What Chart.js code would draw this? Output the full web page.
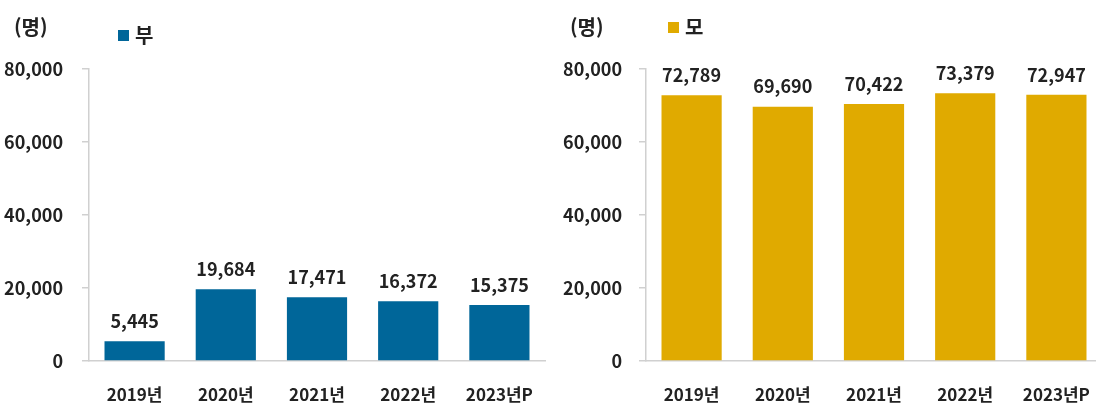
<!DOCTYPE html>
<html lang="ko">
<head>
<meta charset="utf-8">
<script src="https://cdn.jsdelivr.net/npm/chart.js@4/dist/chart.umd.min.js"></script>
<style>
    html, body { margin: 0; padding: 0; background: #fff; overflow: hidden; }
    body { width: 1096px; height: 403px; position: relative; }
    canvas { position: absolute; top: 0; }
    #fatherChart { left: 0; }
    #motherChart { left: 556px; }
</style>
</head>
<body>
<canvas id="fatherChart" width="560" height="403"></canvas>
<canvas id="motherChart" width="550" height="403"></canvas>
<script>
// Dados
const years = ['2019년', '2020년', '2021년', '2022년', '2023년P'];
const fatherValues = [5445, 19684, 17471, 16372, 15375];
const motherValues = [72789, 69690, 70422, 73379, 72947];
const yTicks = [0, 20000, 40000, 60000, 80000];

const TEXT_COLOR = '#222222';
const AXIS_COLOR = '#d0d0d0';
const FONT = '"Noto Sans CJK KR", "Noto Sans", sans-serif';

function fmt(v) {
    return v.toLocaleString('en-US');
}

// Rótulos de valor acima das barras + unidade e legenda
const overlayPlugin = {
    id: 'overlay',
    afterDatasetsDraw(chart, args, opts) {
        const ctx = chart.ctx;
        const meta = chart.getDatasetMeta(0);
        const data = chart.data.datasets[0].data;
        ctx.save();
        ctx.fillStyle = TEXT_COLOR;
        ctx.font = 'bold 18px ' + FONT;
        ctx.textAlign = 'center';
        ctx.textBaseline = 'middle';
        meta.data.forEach((bar, i) => {
            ctx.fillText(fmt(data[i]), bar.x, bar.y - 20);
        });

        // unidade
        ctx.font = 'bold 20px ' + FONT;
        ctx.textAlign = 'left';
        ctx.fillText('(명)', opts.unitX, 27);

        // legenda
        ctx.fillStyle = chart.data.datasets[0].backgroundColor;
        ctx.fillRect(opts.legendX, opts.legendY - 5, 11, 11);
        ctx.fillStyle = TEXT_COLOR;
        ctx.font = 'bold 20px ' + FONT;
        ctx.fillText(chart.data.datasets[0].label, opts.legendX + 17, opts.legendY);
        ctx.restore();
    }
};

function makeChart(id, label, values, color, cfg) {
    return new Chart(document.getElementById(id), {
        type: 'bar',
        data: {
            labels: years,
            datasets: [{
                label: label,
                data: values,
                backgroundColor: color,
                barPercentage: 0.66,
                categoryPercentage: 1.0
            }]
        },
        options: {
            responsive: false,
            animation: false,
            layout: { padding: { top: 69, right: cfg.padRight, left: 0, bottom: 0 } },
            plugins: {
                legend: { display: false },
                tooltip: { enabled: false },
                overlay: cfg
            },
            scales: {
                x: {
                    grid: { display: false, drawTicks: false },
                    border: { display: true, color: AXIS_COLOR, width: 1.5 },
                    ticks: {
                        color: TEXT_COLOR,
                        font: { family: FONT, size: 17, weight: 'bold' },
                        padding: 23,
                        maxRotation: 0
                    },
                    afterFit(scale) {
                        scale.height = 42;
                        scale.paddingLeft = 0;
                        scale.paddingRight = 0;
                    }
                },
                y: {
                    min: 0,
                    max: 80000,
                    afterBuildTicks(scale) {
                        scale.ticks = yTicks.map(v => ({ value: v }));
                    },
                    grid: {
                        drawOnChartArea: false,
                        drawTicks: true,
                        tickLength: 7,
                        color: AXIS_COLOR,
                        lineWidth: 1.5
                    },
                    border: { display: true, color: AXIS_COLOR, width: 1.5 },
                    ticks: {
                        color: TEXT_COLOR,
                        font: { family: FONT, size: 18, weight: 'bold' },
                        padding: cfg.tickPad,
                        callback: v => fmt(v)
                    },
                    afterFit(scale) { scale.width = cfg.axisWidth; }
                }
            }
        },
        plugins: [overlayPlugin]
    });
}

document.addEventListener('DOMContentLoaded', () => {
    makeChart('fatherChart', '부', fatherValues, '#006699', {
        padRight: 15, axisWidth: 89, tickPad: 19,
        unitX: 14, legendX: 118, legendY: 35
    });
    makeChart('motherChart', '모', motherValues, '#e0aa00', {
        padRight: 4, axisWidth: 90, tickPad: 17,
        unitX: 14, legendX: 112, legendY: 27
    });
});
</script>
</body>
</html>
